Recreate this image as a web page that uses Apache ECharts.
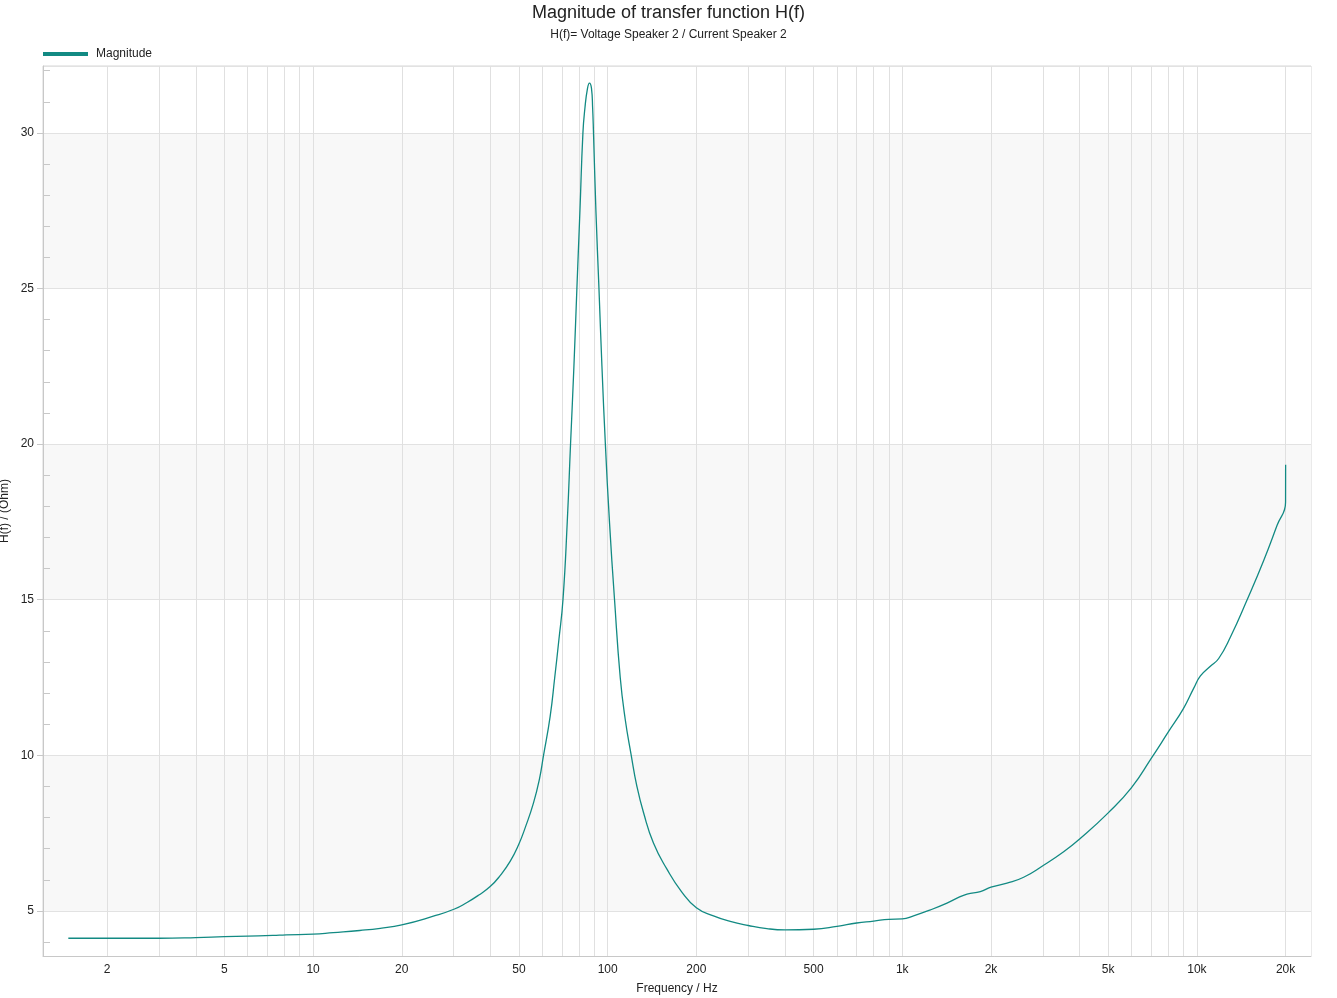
<!DOCTYPE html>
<html>
<head>
<meta charset="utf-8">
<title>Magnitude of transfer function H(f)</title>
<script src="https://cdn.jsdelivr.net/npm/echarts@6/dist/echarts.min.js"></script>
<style>
  html, body { margin: 0; padding: 0; background: #fff; }
  #chart { width: 1337px; height: 998px; }
</style>
</head>
<body>
<div id="chart"></div>
<script>
// frequency in Hz
const freqHz = [
  1.476, 2, 3, 4, 5, 6, 7.3, 8.1, 10, 11.7, 14.4, 16.9, 20, 25.6, 30.2, 33.3,
  36.4, 39.9, 43.2, 46.7, 49.8, 52.6, 56.0, 58.7, 60.5, 63.8, 66.1, 68.3, 70.5,
  72.9, 74.8, 76.8, 78.6, 80.5, 82.4, 83.7, 85.4, 86.7,
  88.1, 88.9, 89.5, 91.2, 93.4, 95.6, 98.2, 101.4, 105.5, 110.3, 114.7, 120.2,
  125.6, 132.3, 143, 158.9, 178, 200, 228.6, 260.6, 300,
  347, 400, 500, 600, 700, 800, 900, 1000, 1092, 1245, 1418, 1534, 1659, 1840,
  2000, 2267, 2582, 3000, 3530, 4000, 5000, 6000, 7000, 8000, 9000, 9750,
  10280, 11110, 11860, 13000, 14800, 16860, 18720, 20000, 20010
];
// |H(f)| in Ohm
const magOhm = [
  4.12, 4.12, 4.12, 4.14, 4.17, 4.19, 4.21, 4.23, 4.25, 4.30, 4.37, 4.44, 4.55,
  4.83, 5.06, 5.27, 5.50, 5.78, 6.14, 6.6, 7.12, 7.7, 8.47, 9.25, 9.97, 11.26,
  12.5, 13.72, 15.0,
  17.5, 20.0, 22.5, 25.0, 27.5, 30.0, 30.8, 31.43, 31.6,
  31.43, 30.8, 30.0, 27.5, 25.0, 22.5, 20.0, 17.5, 15.0, 12.5, 11.15, 10.0,
  9.01, 8.16, 7.18, 6.34, 5.62, 5.10, 4.84, 4.66, 4.53,
  4.43, 4.39, 4.41, 4.50, 4.61, 4.67, 4.73, 4.74, 4.84, 5.03, 5.25, 5.41, 5.54,
  5.62, 5.76, 5.89, 6.08, 6.45, 6.90, 7.31, 8.15, 8.96, 9.90, 10.75, 11.5,
  12.15, 12.55, 12.86, 13.11, 13.80, 14.99, 16.26, 17.39, 18.13, 19.34
];
// vertical grid lines (1..9 per decade) and labelled frequencies
const gridFreqs = [
  2, 3, 4, 5, 6, 7, 8, 9, 10, 20, 30, 40, 50, 60, 70, 80, 90, 100, 200, 300,
  400, 500, 600, 700, 800, 900, 1000, 2000, 3000, 4000, 5000, 6000, 7000, 8000,
  9000, 10000, 20000
];
const labelFreqs = [2, 5, 10, 20, 50, 100, 200, 500, 1000, 2000, 5000, 10000, 20000];

const fMin = 1.211;
const fMax = 24400;
const zMin = 3.55;
const zMax = 32.15;
const lineColor = "#128a83";
const textColor = "#222";
const axisColor = "#c8c8c8";

let chart = echarts.init(document.getElementById("chart"));

let option = {
  animation: false,
  backgroundColor: "#fff",
  textStyle: { fontFamily: "Liberation Sans, Arial, sans-serif" },
  title: {
    text: "Magnitude of transfer function H(f)",
    subtext: "H(f)= Voltage Speaker 2 / Current Speaker 2",
    left: "center",
    top: -1,
    itemGap: 7,
    textStyle: { fontSize: 18, fontWeight: "normal", color: textColor },
    subtextStyle: { fontSize: 12, color: textColor },
  },
  legend: {
    left: 38,
    top: 43,
    icon: "rect",
    itemWidth: 45,
    itemHeight: 4,
    textStyle: { fontSize: 12, color: textColor, padding: [0, 0, 0, 3] },
    data: ["Magnitude"],
  },
  grid: {
    left: 43,
    right: 26,
    top: 66,
    bottom: 42,
    containLabel: false,
    outerBoundsMode: "none",
    show: true,
    borderColor: "#d6d6d6",
    borderWidth: 1,
  },
  xAxis: [
    {
      // data axis, log scale
      type: "log",
      min: fMin,
      max: fMax,
      show: false,
    },
    {
      // drawing axis in log10 units, only for grid lines and labels
      type: "value",
      position: "bottom",
      min: Math.log10(fMin),
      max: Math.log10(fMax),
      name: "Frequency / Hz",
      nameLocation: "middle",
      nameGap: 27,
      nameTextStyle: { fontSize: 12, color: textColor },
      axisLine: { show: true, lineStyle: { color: axisColor } },
      axisTick: { show: false, customValues: gridFreqs.map(Math.log10) },
      splitLine: { show: true, lineStyle: { color: "#e0e0e0", width: 1 } },
      axisLabel: {
        customValues: labelFreqs.map(Math.log10),
        margin: 8,
        fontSize: 12,
        color: textColor,
        formatter: (v) => {
          let f = Math.round(Math.pow(10, v));
          return f >= 1000 ? f / 1000 + "k" : String(f);
        },
      },
    },
  ],
  yAxis: [
    {
      type: "value",
      position: "left",
      min: zMin,
      max: zMax,
      splitNumber: 6,
      name: "H(f) / (Ohm)",
      nameLocation: "middle",
      nameGap: 32,
      nameMoveOverlap: false,
      nameTextStyle: { fontSize: 12, color: textColor },
      axisLine: { show: true, lineStyle: { color: axisColor } },
      axisTick: { show: true, length: 6, lineStyle: { color: axisColor } },
      axisLabel: {
        showMinLabel: false,
        showMaxLabel: false,
        margin: 9,
        fontSize: 12,
        color: textColor,
        formatter: (v) => (Math.abs(v % 5) < 1e-6 ? String(v) : ""),
      },
      splitLine: { show: true, lineStyle: { color: "#e2e2e2" } },
      splitArea: { show: true, areaStyle: { color: ["#ffffff", "#f8f8f8"] } },
    },
    {
      // same scale again, only for the small inner ticks
      type: "value",
      position: "left",
      min: zMin,
      max: zMax,
      splitNumber: 6,
      axisLine: { show: false },
      axisTick: { show: false, inside: true },
      minorTick: { show: true, splitNumber: 5, length: 7, lineStyle: { color: axisColor } },
      axisLabel: { show: false },
      splitLine: { show: false },
      splitArea: { show: false },
    },
  ],
  graphic: [
    // KLIPPEL logo
    {
      type: "text",
      left: 1251,
      top: 79,
      style: { text: "KLIPPEL", fill: "#3f86bb", font: "bold 12px Liberation Sans, Arial, sans-serif" },
    },
    {
      type: "arc",
      shape: { cx: 1288, cy: 88, r: 17, startAngle: -Math.PI * 0.78, endAngle: -Math.PI * 0.2 },
      style: { stroke: "#8a8a8a", lineWidth: 2, fill: null },
    },
    {
      type: "arc",
      shape: { cx: 1262, cy: 82, r: 18, startAngle: Math.PI * 0.22, endAngle: Math.PI * 0.78 },
      style: { stroke: "#8a8a8a", lineWidth: 2, fill: null },
    },
  ],
  series: [
    {
      name: "Magnitude",
      type: "line",
      xAxisIndex: 0,
      yAxisIndex: 0,
      data: freqHz.map((f, i) => [f, magOhm[i]]),
      showSymbol: false,
      smooth: 0.5,
      lineStyle: { color: lineColor, width: 1.3 },
      itemStyle: { color: lineColor },
    },
  ],
};

chart.setOption(option);
</script>
</body>
</html>
